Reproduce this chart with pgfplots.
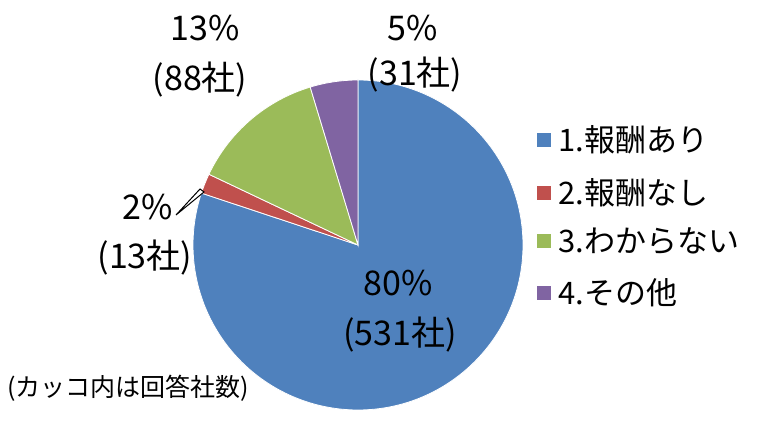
\documentclass[border=0pt]{standalone}
\usepackage{pgfplots}
\pgfplotsset{compat=1.18}
\usepackage{fontspec}
\setmainfont{Noto Sans CJK JP}
\definecolor{pblue}{HTML}{4F81BD}
\definecolor{pred}{HTML}{C0504D}
\definecolor{pgreen}{HTML}{9BBB59}
\definecolor{ppurple}{HTML}{8064A2}
\begin{document}
\begin{tikzpicture}
\begin{axis}[hide axis, scale only axis, width=389pt, height=211pt,
  xmin=0, xmax=778, ymin=0, ymax=422, clip=false, anchor=south west, at={(0,0)}]
\pgfplotsextra{
  \def\tot{663}
  \gdef\ang{90}
  \foreach \v/\col in {531/pblue,13/pred,88/pgreen,31/ppurple}{
    \pgfmathsetmacro\sweep{\v/\tot*360}
    \pgfmathsetmacro\endang{\ang-\sweep}
    \fill[\col, draw=white, line width=0.4pt] (axis cs:358,177) -- ++(\ang:82.5pt)
      arc[start angle=\ang, end angle=\endang, radius=82.5pt] -- cycle;
    \global\let\ang\endang
  }
  \draw[black, line width=0.5pt, fill=white] (axis cs:176,207) -- (axis cs:200,233) -- (axis cs:204,230) -- cycle;
  \foreach \y/\col/\t in {282/pblue/1.報酬あり, 229/pred/2.報酬なし, 181/pgreen/3.わからない, 129/ppurple/4.その他}{
    \fill[\col] (axis cs:537,\y-7) rectangle (axis cs:551,\y+7);
    \node[font=\fontsize{15.5}{18}\selectfont, anchor=west, inner sep=0pt] at (axis cs:558,\y) {\t};
  }
}
\tikzset{lab/.style={font=\fontsize{17}{20}\selectfont, inner sep=0pt}}
\node[lab] at (axis cs:205,394) {13\%};
\node[lab] at (axis cs:200,342) {(88社)};
\node[lab] at (axis cs:413,394) {5\%};
\node[lab] at (axis cs:415,347) {(31社)};
\node[lab] at (axis cs:148,215) {2\%};
\node[lab] at (axis cs:145,164) {(13社)};
\node[lab] at (axis cs:398,139) {80\%};
\node[lab] at (axis cs:400,87) {(531社)};
\node[font=\fontsize{12.5}{14}\selectfont, inner sep=0pt] at (axis cs:128,34) {(カッコ内は回答社数)};
\end{axis}
\pgfresetboundingbox
\useasboundingbox (0,0) rectangle (389pt,211pt);
\end{tikzpicture}
\end{document}
